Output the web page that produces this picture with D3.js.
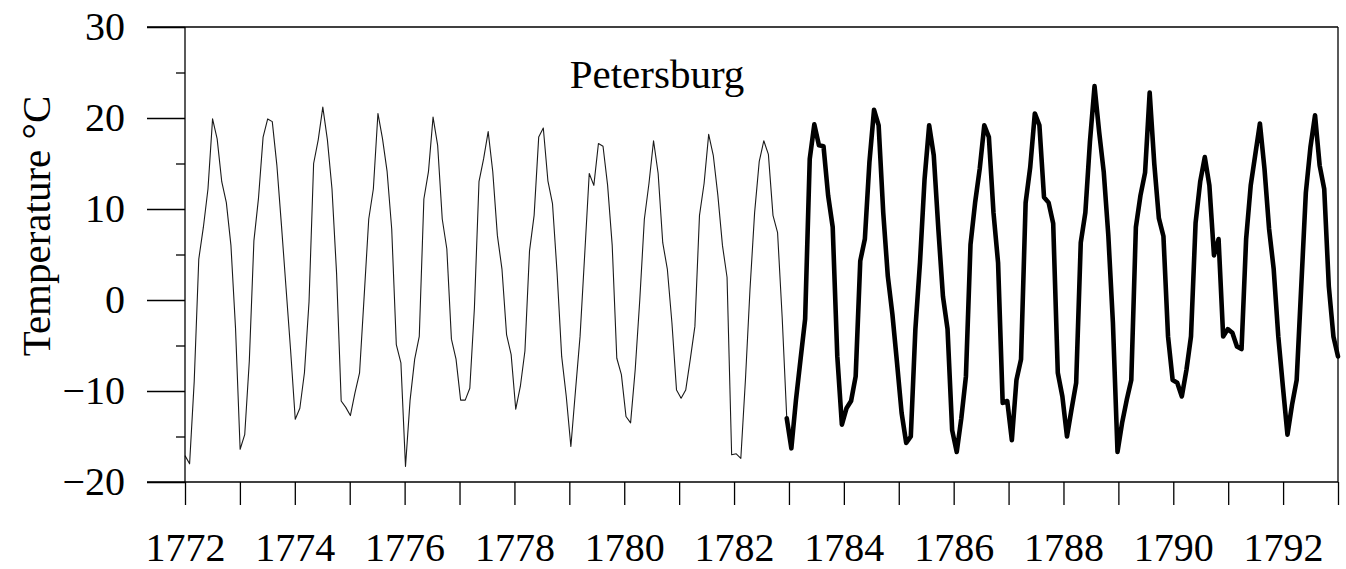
<!DOCTYPE html>
<html>
<head>
<meta charset="utf-8">
<script src="https://cdn.jsdelivr.net/npm/d3@7"></script>
<style>
  html, body { margin: 0; padding: 0; background: #fff; }
  svg { display: block; }
  text { font-family: "Liberation Serif", "Times New Roman", serif; fill: #000; }
</style>
</head>
<body>
<svg id="chart" width="1346" height="569"></svg>
<script>
// Monthly mean temperatures, Petersburg (°C), Jan..Dec per year
const yearsEarly = [1772, 1773, 1774, 1775, 1776, 1777, 1778, 1779, 1780, 1781, 1782];
const tempsEarly = [
  -17.1, -18.0, -9.0, 4.5, 8.0, 12.2, 19.9, 17.7, 13.0, 10.7, 6.0, -3.1,
  -16.4, -14.8, -6.7, 6.5, 11.2, 17.9, 19.9, 19.6, 14.8, 8.2, 1.3, -5.6,
  -13.1, -11.9, -8.0, -0.2, 15.0, 17.6, 21.2, 17.6, 12.2, 2.9, -11.1, -11.8,
  -12.7, -10.2, -8.0, 0.4, 8.9, 12.2, 20.5, 17.7, 14.1, 7.8, -4.9, -6.9,
  -18.3, -11.0, -6.5, -4.0, 11.1, 14.1, 20.1, 17.0, 8.9, 5.6, -4.3, -6.5,
  -11.0, -11.0, -9.7, -0.9, 13.0, 15.5, 18.5, 14.1, 7.1, 3.4, -3.8, -6.0,
  -12.0, -9.5, -5.6, 5.4, 9.3, 17.9, 18.9, 13.1, 10.6, 3.0, -6.2, -10.6,
  -16.1, -10.0, -4.0, 4.9, 13.9, 12.6, 17.2, 16.9, 12.6, 6.0, -6.4, -8.2,
  -12.8, -13.5, -7.7, 0.0, 8.9, 12.8, 17.5, 13.9, 6.3, 3.4, -2.5, -9.9,
  -10.8, -9.9, -6.5, -2.9, 9.3, 12.8, 18.2, 15.9, 11.5, 6.0, 2.5, -17.0,
  -16.9, -17.4, -8.8, 1.2, 9.6, 15.2, 17.5, 16.0, 9.3, 7.4, -1.9, -13.0
];
const yearsLate = [1783, 1784, 1785, 1786, 1787, 1788, 1789, 1790, 1791, 1792];
const tempsLate = [
  -16.3, -11.0, -6.5, -2.1, 15.5, 19.3, 17.0, 16.9, 11.5, 8.0, -6.2, -13.7,
  -11.9, -11.1, -8.4, 4.3, 6.7, 15.2, 20.9, 19.2, 9.6, 2.6, -1.6, -6.9,
  -12.4, -15.7, -15.0, -3.2, 4.1, 13.3, 19.2, 15.9, 7.8, 0.4, -3.2, -14.3,
  -16.7, -13.0, -8.4, 6.1, 10.7, 14.4, 19.2, 17.9, 9.6, 4.1, -11.3, -11.1,
  -15.4, -8.8, -6.5, 10.7, 14.6, 20.5, 19.2, 11.3, 10.7, 8.4, -8.0, -10.6,
  -15.0, -12.0, -9.1, 6.3, 9.6, 17.4, 23.5, 18.5, 14.1, 7.1, -2.5, -16.7,
  -13.5, -11.0, -8.8, 8.0, 11.5, 14.0, 22.8, 15.0, 9.0, 7.0, -4.0, -8.8,
  -9.1, -10.6, -7.7, -4.0, 8.5, 13.0, 15.7, 12.6, 4.9, 6.7, -4.0, -3.2,
  -3.6, -5.1, -5.4, 6.7, 12.6, 16.0, 19.4, 14.4, 7.8, 3.4, -4.0, -9.5,
  -14.8, -11.5, -8.8, 1.5, 11.8, 16.8, 20.3, 14.8, 12.2, 1.5, -4.0, -6.2
];
const xTickYears = d3.range(1772, 1794);          // every year gets a tick
const xLabelYears = d3.range(1772, 1793, 2);       // labels every 2 years
const yMajorTicks = [-20, -10, 0, 10, 20, 30];
const yMinorTicks = [-15, -5, 5, 15, 25];
const titleText = "Petersburg";
const yLabelText = "Temperature °C";

// ---- build series ----
const startYear = yearsEarly[0];
const endYear = yearsLate[yearsLate.length - 1] + 1;
const allTemps = tempsEarly.concat(tempsLate);
const nAll = allTemps.length;
// the monthly series spans the full time axis
const pts = allTemps.map((v, i) => ({ t: startYear + i * (endYear - startYear) / (nAll - 1), v }));
const early = pts.slice(0, tempsEarly.length);
const late = pts.slice(tempsEarly.length - 1); // joins with the last early point

// ---- layout ----
const svg = d3.select("#chart");
const L = 185, R = 1338, T = 27, B = 482;
const x = d3.scaleLinear().domain([startYear, endYear]).range([L, R]);
const y = d3.scaleLinear().domain([-20, 30]).range([B, T]);
const FS = 40;

svg.append("rect").attr("width", 1346).attr("height", 569).attr("fill", "#fff");

const line = d3.line().x(d => x(d.t)).y(d => y(d.v));

svg.append("path").datum(early)
  .attr("d", line).attr("fill", "none")
  .attr("stroke", "#1a1a1a").attr("stroke-width", 1.1).attr("stroke-linejoin", "round");

svg.append("path").datum(late)
  .attr("d", line).attr("fill", "none")
  .attr("stroke", "#000").attr("stroke-width", 4.6)
  .attr("stroke-linejoin", "round").attr("stroke-linecap", "round");

// frame: top and right borders
svg.append("line").attr("x1", L - 38).attr("x2", R).attr("y1", T).attr("y2", T)
  .attr("stroke", "#000").attr("stroke-width", 1.3);
svg.append("line").attr("x1", R).attr("x2", R).attr("y1", T).attr("y2", B)
  .attr("stroke", "#000").attr("stroke-width", 1.3);

// y axis major
const yAxis = svg.append("g").attr("transform", `translate(${L},0)`)
  .call(d3.axisLeft(y).tickValues(yMajorTicks).tickSize(38).tickPadding(22).tickFormat(d3.format("d")));
yAxis.select(".domain").remove();
yAxis.selectAll("line").attr("stroke", "#000").attr("stroke-width", 1.3);
yAxis.selectAll("text").attr("font-size", FS).attr("font-family", "Liberation Serif").attr("fill", "#000");

// y axis minor
const yMinor = svg.append("g").attr("transform", `translate(${L},0)`)
  .call(d3.axisLeft(y).tickValues(yMinorTicks).tickSize(9).tickFormat(""));
yMinor.select(".domain").remove();
yMinor.selectAll("line").attr("stroke", "#000").attr("stroke-width", 1.3);

// y axis line
svg.append("line").attr("x1", L).attr("x2", L).attr("y1", T).attr("y2", B)
  .attr("stroke", "#000").attr("stroke-width", 1.3);

// x axis
const xAxis = svg.append("g").attr("transform", `translate(0,${B})`)
  .call(d3.axisBottom(x).tickValues(xTickYears).tickSize(23)
    .tickFormat(d => xLabelYears.includes(d) ? String(d) : ""));
xAxis.select(".domain").remove();
xAxis.selectAll("line").attr("stroke", "#000").attr("stroke-width", 1.3);
xAxis.selectAll("text").attr("font-size", FS).attr("font-family", "Liberation Serif")
  .attr("fill", "#000").attr("y", 79).attr("dy", null);
svg.append("line").attr("x1", L - 38).attr("x2", R).attr("y1", B).attr("y2", B)
  .attr("stroke", "#000").attr("stroke-width", 1.3);

// title
svg.append("text").attr("x", 657).attr("y", 88).attr("text-anchor", "middle")
  .attr("font-size", 41).text(titleText);

// y label
svg.append("text").attr("transform", `translate(50,226) rotate(-90)`)
  .attr("text-anchor", "middle").attr("font-size", 41).text(yLabelText);
</script>
</body>
</html>
